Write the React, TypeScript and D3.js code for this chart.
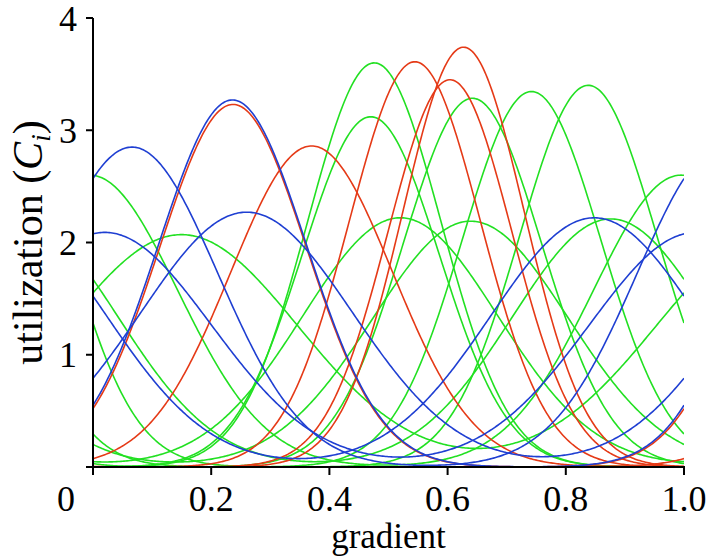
import React from "react";
import * as d3 from "d3";

// Peak position, peak height and width (sd) of each utilization curve
const blueCenters = [0.066, 0.236, 0.26, 0.02, 0.848];
const blueHeights = [2.85, 3.27, 2.27, 2.09, 2.22];
const blueWidths = [0.145, 0.125, 0.179, 0.18, 0.175];

const redCenters = [0.237, 0.37, 0.5446, 0.627, 0.604];
const redHeights = [3.23, 2.86, 3.61, 3.74, 3.45];
const redWidths = [0.124, 0.137, 0.111, 0.103, 0.105];

const greenCenters = [0.476, 0.47, 0.642, 0.742, 0.838, 0.52, 0.639, 0.876, 0.995, 0.1497];
const greenHeights = [3.6, 3.12, 3.285, 3.345, 3.4, 2.22, 2.19, 2.21, 2.6, 2.07];
const greenWidths = [0.113, 0.116, 0.117, 0.117, 0.116, 0.165, 0.165, 0.166, 0.148, 0.197];

const xTicks = [0.2, 0.4, 0.6, 0.8, 1.0];
const xTickLabels = ["0.2", "0.4", "0.6", "0.8", "1.0"];
const yTicks = [0, 1, 2, 3, 4];
const yTickLabels = ["", "1", "2", "3", "4"];

const W = 711;
const H = 556;
const FONT = "'Liberation Serif', 'Times New Roman', serif";

const x = d3.scaleLinear().domain([0, 1]).range([93, 684]);
const y = d3.scaleLinear().domain([0, 4]).range([467, 18]);

const samples = d3.range(0, 1.00001, 1 / 400);

function curvePoints(m: number, h: number, s: number): [number, number][] {
  // periodic gradient: the niche wraps around the ends
  return samples.map((g) => {
    let v = 0;
    for (let k = -1; k <= 1; k++) {
      const d = g - m + k;
      v += h * Math.exp(-(d * d) / (2 * s * s));
    }
    return [g, v];
  });
}

const line = d3
  .line<[number, number]>()
  .x((d) => x(d[0]))
  .y((d) => y(d[1]));

const series = [
  { color: "#22e022", centers: greenCenters, heights: greenHeights, widths: greenWidths },
  { color: "#e53a17", centers: redCenters, heights: redHeights, widths: redWidths },
  { color: "#1f3fd2", centers: blueCenters, heights: blueHeights, widths: blueWidths },
];

export default function App() {
  return (
    <svg
      width={W}
      height={H}
      style={{ position: "absolute", left: 0, top: 0, background: "#fff" }}
      fontFamily={FONT}
    >
      <defs>
        <clipPath id="plot">
          <rect x={x(0)} y={y(4) - 5} width={x(1) - x(0)} height={y(0) - y(4) + 5} />
        </clipPath>
      </defs>
      <g clipPath="url(#plot)">
        {series.map((s, si) =>
          s.centers.map((m, i) => (
            <path
              key={`${si}-${i}`}
              d={line(curvePoints(m, s.heights[i], s.widths[i])) || ""}
              fill="none"
              stroke={s.color}
              strokeWidth={1.6}
            />
          ))
        )}
      </g>
      {/* axes */}
      <line x1={x(0)} x2={x(0)} y1={y(4)} y2={y(0) + 1} stroke="#000" strokeWidth={2} />
      <line x1={x(0) - 1} x2={x(1) + 1} y1={y(0)} y2={y(0)} stroke="#000" strokeWidth={2} />
      {yTicks.map((t, i) => (
        <g key={`y${i}`}>
          <line x1={x(0) - 7} x2={x(0)} y1={y(t)} y2={y(t)} stroke="#000" strokeWidth={2} />
          <text x={77} y={y(t)} dy="0.35em" textAnchor="end" fontSize={36}>
            {yTickLabels[i]}
          </text>
        </g>
      ))}
      <line x1={x(0)} x2={x(0)} y1={y(0)} y2={y(0) + 8} stroke="#000" strokeWidth={2} />
      {xTicks.map((t, i) => (
        <g key={`x${i}`}>
          <line x1={x(t)} x2={x(t)} y1={y(0)} y2={y(0) + 8} stroke="#000" strokeWidth={2} />
          <text x={x(t)} y={511} textAnchor="middle" fontSize={36}>
            {xTickLabels[i]}
          </text>
        </g>
      ))}
      <text x={66} y={511} textAnchor="middle" fontSize={36}>
        0
      </text>
      <text x={(x(0) + x(1)) / 2} y={548} textAnchor="middle" fontSize={35}>
        gradient
      </text>
      <text transform={`translate(42,${(y(0) + y(4)) / 2}) rotate(-90)`} textAnchor="middle" fontSize={42}>
        utilization (<tspan fontStyle="italic">C</tspan>
        <tspan fontStyle="italic" fontSize={27} dy={8}>
          i
        </tspan>
        <tspan dy={-8}>)</tspan>
      </text>
    </svg>
  );
}
